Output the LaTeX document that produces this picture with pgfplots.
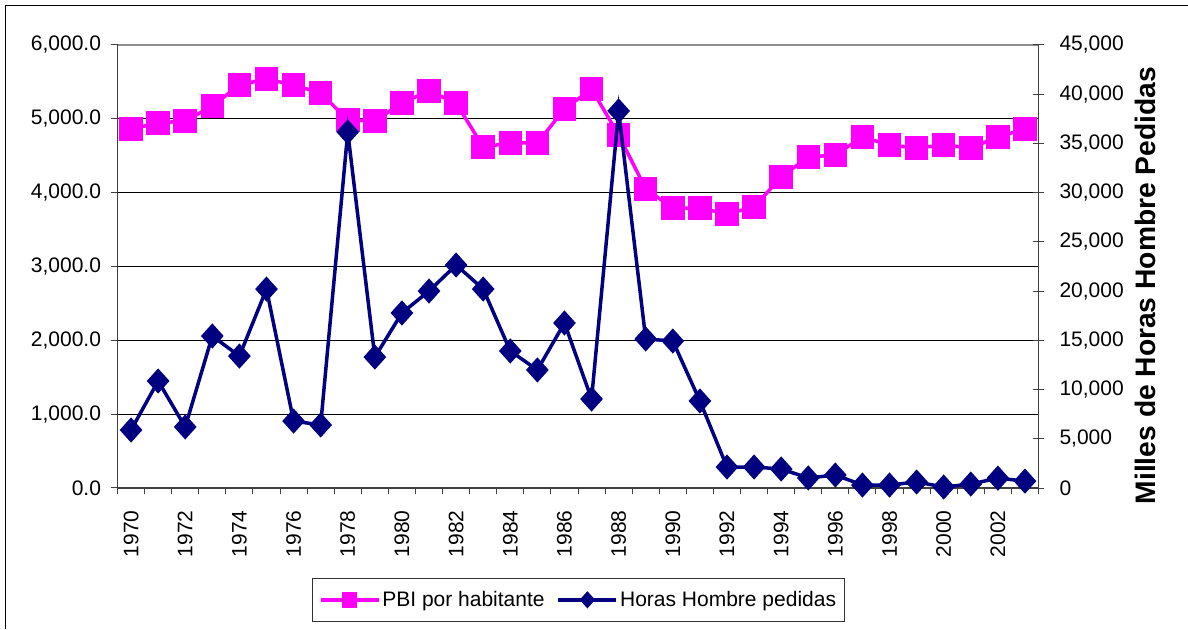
\documentclass[border=0pt]{standalone}
\usepackage{pgfplots}
\pgfplotsset{compat=1.18}
\usepackage{fontspec}
\setmainfont{Liberation Sans}
\definecolor{pbi}{RGB}{255,0,255}
\definecolor{hh}{RGB}{0,0,128}
\pgfplotstableread{
year pbi horas
1970 4862 5890
1971 4944 10870
1972 4971 6200
1973 5174 15440
1974 5458 13400
1975 5540 20210
1976 5458 6800
1977 5350 6400
1978 4985 36160
1979 4970 13300
1980 5215 17780
1981 5377 20010
1982 5215 22650
1983 4619 20210
1984 4673 13920
1985 4673 11990
1986 5133 16760
1987 5404 9040
1988 4781 38300
1989 4050 15140
1990 3792 14930
1991 3792 8840
1992 3711 2130
1993 3806 2130
1994 4212 1930
1995 4483 1020
1996 4510 1320
1997 4754 300
1998 4646 300
1999 4605 610
2000 4646 100
2001 4605 400
2002 4754 1000
2003 4862 700
}\datatable
\newcommand{\tf}{\fontsize{21}{24}\selectfont}
\begin{document}
\begin{tikzpicture}[x=1pt,y=1pt]
\useasboundingbox (0,0) rectangle (1188,629);
\draw[line width=1.2pt, black] (5.5,0) -- (5.5,623.5) -- (1188,623.5);
\begin{axis}[
  at={(117.5pt,141pt)}, anchor=south west, scale only axis,
  width=921pt, height=443pt,
  xmin=1969.5, xmax=2003.5, ymin=0, ymax=6000,
  axis x line*=bottom, axis y line*=left,
  axis line style={line width=1.2pt, draw=black!75, -},
  xtick={1970,1972,...,2002},
  minor xtick={1969.5,1970.5,...,2003.5},
  major x tick style={draw=none},
  minor tick length=6pt,
  ytick={0,1000,...,6000},
  major tick length=7pt,
  tick align=outside,
  tick style={line width=1pt, black!75},
  ymajorgrids, grid style={line width=1pt, black},
  xticklabel style={rotate=90, anchor=east, font=\tf, /pgf/number format/1000 sep={}, xshift=-12pt},
  yticklabel style={font=\tf, xshift=-6pt, /pgf/number format/fixed, /pgf/number format/fixed zerofill, /pgf/number format/precision=1, /pgf/number format/1000 sep={,}},
  /pgf/number format/assume math mode=true,
  clip=false,
]
\addplot[pbi, line width=3.5pt, mark=square*, mark size=10pt, mark options={solid}] table[x=year, y=pbi] {\datatable};
\draw[line width=1.2pt, black!45] (axis cs:1969.5,6000) -- (axis cs:2003.5,6000);
\end{axis}
\begin{axis}[
  at={(117.5pt,141pt)}, anchor=south west, scale only axis,
  width=921pt, height=443pt,
  xmin=1969.5, xmax=2003.5, ymin=0, ymax=45000,
  axis x line=none, axis y line*=right,
  axis line style={line width=1.2pt, draw=black!75, -},
  ytick={0,5000,...,45000},
  scaled y ticks=false,
  tick align=center, major tick length=11pt,
  tick style={line width=1pt, black!75},
  yticklabel style={font=\tf, xshift=12pt, /pgf/number format/fixed, /pgf/number format/precision=0, /pgf/number format/1000 sep={,}},
  /pgf/number format/assume math mode=true,
  ylabel={Milles de Horas Hombre Pedidas},
  ylabel style={font=\fontsize{28.2}{31}\selectfont\bfseries, at={(axis description cs:1.116,0.457)}, anchor=center, rotate=0},
  clip=false,
  legend columns=2,
  legend style={at={(axis description cs:0.5005,-0.2524)}, anchor=center, draw=black!80, line width=1pt, font=\tf,
    inner xsep=6pt, inner ysep=11pt, /tikz/every even column/.append style={column sep=10pt}},
  legend image code/.code={\draw[mark repeat=2,mark phase=2] plot coordinates {(0pt,0pt)(29pt,0pt)(58pt,0pt)};},
]
\addlegendimage{pbi, line width=3.5pt, mark=square*, mark size=6pt}
\addlegendentry{PBI por habitante}
\addlegendimage{hh, line width=3.5pt, mark=diamond*, mark size=6pt, mark options={xscale=1.2}}
\addlegendentry{Horas Hombre pedidas\hspace{8pt}}
\addplot[hh, line width=3.5pt, mark=diamond*, mark size=10pt, mark options={solid, xscale=1.2}, forget plot] table[x=year, y=horas] {\datatable};
\end{axis}
\end{tikzpicture}
\end{document}
